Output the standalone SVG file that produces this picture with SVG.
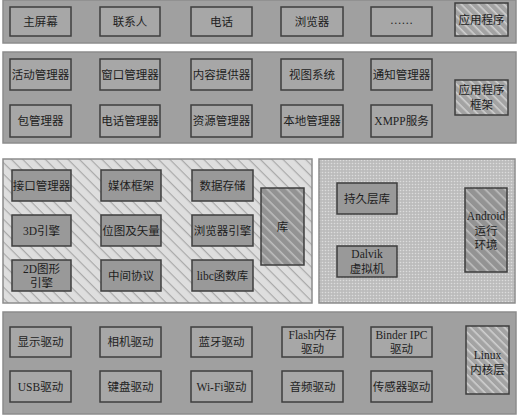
<svg xmlns="http://www.w3.org/2000/svg" width="517" height="416" viewBox="0 0 517 416">
<defs>
<pattern id="hBox" width="6" height="6" patternUnits="userSpaceOnUse" patternTransform="rotate(45)">
<rect width="6" height="6" fill="#a3a3a3"/><rect width="6" height="1.6" fill="#cfcfcf"/>
</pattern>
<pattern id="hLib" width="8" height="8" patternUnits="userSpaceOnUse" patternTransform="rotate(45)">
<rect width="8" height="8" fill="#dedede"/><rect width="8" height="1.2" fill="#a9a9a9"/>
</pattern>
<pattern id="hLibBox" width="7" height="7" patternUnits="userSpaceOnUse" patternTransform="rotate(45)">
<rect width="7" height="7" fill="#939393"/><rect width="7" height="1.6" fill="#bdbdbd"/>
</pattern>
<pattern id="dots" width="3" height="3" patternUnits="userSpaceOnUse">
<rect width="3" height="3" fill="#bcbcbc"/><circle cx="1.5" cy="1.5" r="0.8" fill="#dcdcdc"/>
</pattern>
</defs>
<style>
.panel{fill:#a0a0a0;stroke:#8c8c8c;stroke-width:1.5}
.box{fill:#a7a7a7;stroke:#3e3e3e;stroke-width:1.5}
.lbox{fill:#999999;stroke:#3e3e3e;stroke-width:1.5}
.hbox{fill:url(#hBox);stroke:#3e3e3e;stroke-width:1.5}
text{font-family:"Liberation Serif","Noto Sans CJK SC",serif;font-size:11.5px;fill:#1e1e1e;text-anchor:middle;dominant-baseline:central}
</style>
<rect width="517" height="416" fill="#ffffff"/>

<g id="apps">
<rect class="panel" x="3" y="0" width="513" height="43"/>
<g id="n-home"><rect class="box" x="10" y="7" width="61" height="29"/><text x="40.5" y="21.5">主屏幕</text></g>
<g id="n-contacts"><rect class="box" x="100" y="7" width="60" height="29"/><text x="130" y="21.5">联系人</text></g>
<g id="n-phone"><rect class="box" x="191" y="7" width="61" height="29"/><text x="221.5" y="21.5">电话</text></g>
<g id="n-browser"><rect class="box" x="281" y="7" width="62" height="29"/><text x="312" y="21.5">浏览器</text></g>
<g id="n-more"><rect class="box" x="371" y="7" width="61" height="29"/><text x="401.5" y="20">……</text></g>
<g id="n-applayer"><rect class="hbox" x="455" y="3" width="53" height="33"/><text x="481.5" y="19.5">应用程序</text></g>
</g>

<g id="framework">
<rect class="panel" x="3" y="52" width="513" height="91"/>
<g id="n-activity"><rect class="box" x="10" y="59" width="61" height="31"/><text x="40.5" y="74.5">活动管理器</text></g>
<g id="n-window"><rect class="box" x="100" y="59" width="60" height="31"/><text x="130" y="74.5">窗口管理器</text></g>
<g id="n-content"><rect class="box" x="191" y="59" width="61" height="31"/><text x="221.5" y="74.5">内容提供器</text></g>
<g id="n-view"><rect class="box" x="281" y="59" width="62" height="31"/><text x="312" y="74.5">视图系统</text></g>
<g id="n-notify"><rect class="box" x="371" y="59" width="61" height="31"/><text x="401.5" y="74.5">通知管理器</text></g>
<g id="n-package"><rect class="box" x="10" y="105" width="61" height="32"/><text x="40.5" y="121">包管理器</text></g>
<g id="n-telephony"><rect class="box" x="100" y="105" width="60" height="32"/><text x="130" y="121">电话管理器</text></g>
<g id="n-resource"><rect class="box" x="191" y="105" width="61" height="32"/><text x="221.5" y="121">资源管理器</text></g>
<g id="n-location"><rect class="box" x="281" y="105" width="62" height="32"/><text x="312" y="121">本地管理器</text></g>
<g id="n-xmpp"><rect class="box" x="371" y="105" width="61" height="32"/><text x="401.5" y="121">XMPP服务</text></g>
<g id="n-fwlayer"><rect class="hbox" x="455" y="80" width="53" height="35"/><text x="481.5" y="90">应用程序</text><text x="481.5" y="105">框架</text></g>
</g>

<g id="libraries">
<rect x="3" y="159" width="309" height="144" fill="url(#hLib)" stroke="#8c8c8c" stroke-width="1.5"/>
<g id="n-surface"><rect class="lbox" x="12" y="170" width="59" height="31"/><text x="41.5" y="185.5">接口管理器</text></g>
<g id="n-media"><rect class="lbox" x="101" y="170" width="60" height="31"/><text x="131" y="185.5">媒体框架</text></g>
<g id="n-sqlite"><rect class="lbox" x="192" y="170" width="61" height="31"/><text x="222.5" y="185.5">数据存储</text></g>
<g id="n-3d"><rect class="lbox" x="12" y="215" width="59" height="31"/><text x="41.5" y="230.5">3D引擎</text></g>
<g id="n-bitmap"><rect class="lbox" x="101" y="215" width="60" height="31"/><text x="131" y="230.5">位图及矢量</text></g>
<g id="n-webkit"><rect class="lbox" x="192" y="215" width="61" height="31"/><text x="222.5" y="230.5">浏览器引擎</text></g>
<g id="n-2d"><rect class="lbox" x="12" y="260" width="59" height="31"/><text x="41.5" y="268.5">2D图形</text><text x="41.5" y="283">引擎</text></g>
<g id="n-ssl"><rect class="lbox" x="101" y="260" width="60" height="31"/><text x="131" y="275.5">中间协议</text></g>
<g id="n-libc"><rect class="lbox" x="192" y="260" width="61" height="31"/><text x="222.5" y="275.5">libc函数库</text></g>
<g id="n-liblayer"><rect x="261" y="188" width="43" height="77" fill="url(#hLibBox)" stroke="#3e3e3e" stroke-width="1.5"/><text x="282.5" y="226.5">库</text></g>
</g>

<g id="runtime">
<rect x="319" y="159" width="196" height="144" fill="url(#dots)" stroke="#8c8c8c" stroke-width="1.5"/>
<g id="n-core"><rect class="lbox" x="337" y="183" width="60" height="31"/><text x="367" y="198.5">持久层库</text></g>
<g id="n-dalvik"><rect class="lbox" x="337" y="246" width="60" height="31"/><text x="367" y="254">Dalvik</text><text x="367" y="268.5">虚拟机</text></g>
<g id="n-rtlayer"><rect x="465" y="188" width="42" height="84" fill="url(#hLibBox)" stroke="#3e3e3e" stroke-width="1.5"/><text x="486" y="216">Android</text><text x="486" y="230.5">运行</text><text x="486" y="245">环境</text></g>
</g>

<g id="kernel">
<rect class="panel" x="3" y="312" width="513" height="102"/>
<g id="n-display"><rect class="box" x="10" y="327" width="61" height="30"/><text x="40.5" y="342">显示驱动</text></g>
<g id="n-camera"><rect class="box" x="100" y="327" width="61" height="30"/><text x="130.5" y="342">相机驱动</text></g>
<g id="n-bt"><rect class="box" x="191" y="327" width="61" height="30"/><text x="221.5" y="342">蓝牙驱动</text></g>
<g id="n-flash"><rect class="box" x="282" y="327" width="61" height="30"/><text x="312.5" y="334.5">Flash内存</text><text x="312.5" y="349">驱动</text></g>
<g id="n-binder"><rect class="box" x="371" y="327" width="61" height="30"/><text x="401.5" y="334.5">Binder IPC</text><text x="401.5" y="349">驱动</text></g>
<g id="n-usb"><rect class="box" x="10" y="371" width="61" height="31"/><text x="40.5" y="386.5">USB驱动</text></g>
<g id="n-keypad"><rect class="box" x="100" y="371" width="61" height="31"/><text x="130.5" y="386.5">键盘驱动</text></g>
<g id="n-wifi"><rect class="box" x="191" y="371" width="61" height="31"/><text x="221.5" y="386.5">Wi-Fi驱动</text></g>
<g id="n-audio"><rect class="box" x="282" y="371" width="61" height="31"/><text x="312.5" y="386.5">音频驱动</text></g>
<g id="n-sensor"><rect class="box" x="371" y="371" width="61" height="31"/><text x="401.5" y="386.5">传感器驱动</text></g>
<g id="n-linux"><rect class="hbox" x="466" y="326" width="43" height="68"/><text x="487.5" y="355">Linux</text><text x="487.5" y="369.5">内核层</text></g>
</g>
<g id="connectors"></g>
</svg>
